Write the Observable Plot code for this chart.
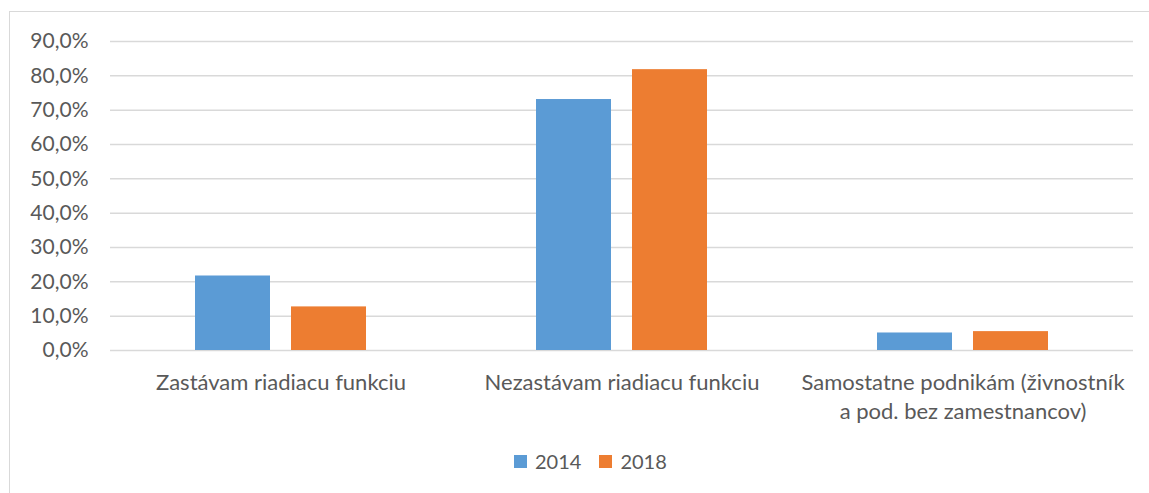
<!DOCTYPE html>
<html>
<head>
<meta charset="utf-8">
<script src="https://cdn.jsdelivr.net/npm/d3@7"></script>
<script src="https://cdn.jsdelivr.net/npm/@observablehq/plot@0.6"></script>
<style>
  html, body { margin: 0; padding: 0; background: #fff; overflow: hidden; }
  #wrap { position: relative; width: 1149px; height: 493px; overflow: hidden; font-family: Lato, sans-serif; }
  #frame { position: absolute; left: 9px; top: 11px; width: 1300px; height: 600px; border: 1px solid #d9d9d9; box-sizing: border-box; }
  #chart { position: absolute; left: 0; top: 0; }
  #legend { position: absolute; left: 514px; top: 449px; display: flex; align-items: center; font-size: 20px; color: #595959; }
  #legend .item { display: flex; align-items: center; margin-right: 18px; }
  #legend .sw { width: 13px; height: 13px; margin-right: 8px; }
</style>
</head>
<body>
<div id="wrap">
  <div id="frame"></div>
  <div id="chart"></div>
  <div id="legend"></div>
</div>
<script>
const categories = ["Zastávam riadiacu funkciu", "Nezastávam riadiacu funkciu", "Samostatne podnikám (živnostník a pod. bez zamestnancov)"];
const categoryLabels = ["Zastávam riadiacu funkciu", "Nezastávam riadiacu funkciu", "Samostatne podnikám (živnostník\na pod. bez zamestnancov)"];
const years = ["2014", "2018"];
const values2014 = [21.7, 73.1, 5.1];
const values2018 = [12.7, 81.8, 5.5];
const yTicks = [0, 10, 20, 30, 40, 50, 60, 70, 80, 90];
const colors = ["#5B9BD5", "#ED7D31"];

const data = [];
categories.forEach((c, i) => {
  data.push({category: c, year: years[0], value: values2014[i]});
  data.push({category: c, year: years[1], value: values2018[i]});
});

const fmt = d => d.toFixed(1).replace(".", ",") + "%";
const labelOf = c => categoryLabels[categories.indexOf(c)];

const chart = Plot.plot({
  width: 1149,
  height: 440,
  marginLeft: 109,
  marginRight: 16,
  marginTop: 41,
  marginBottom: 90,
  style: {fontFamily: "Lato, sans-serif", fontSize: "20px", color: "#595959", background: "transparent", overflow: "visible"},
  fx: {domain: categories, padding: 0, label: null, axis: null},
  x: {domain: years, paddingInner: 0.2165, paddingOuter: 0.8675, axis: null},
  y: {domain: [0, 90], label: null},
  color: {domain: years, range: colors},
  marks: [
    Plot.ruleY(yTicks, {stroke: "#d9d9d9", strokeWidth: 1.5}),
    Plot.barY(data, {fx: "category", x: "year", y: "value", fill: "year"}),
    Plot.axisY({ticks: yTicks, tickSize: 0, tickPadding: 22, tickFormat: fmt, label: null, fill: "#595959", fontSize: 21}),
    Plot.axisFx({anchor: "bottom", tickSize: 0, tickPadding: 18, tickFormat: labelOf, label: null, lineHeight: 1.35, fill: "#595959", fontSize: 22})
  ]
});
document.getElementById("chart").appendChild(chart);

const legend = document.getElementById("legend");
years.forEach((y, i) => {
  const item = document.createElement("div");
  item.className = "item";
  const sw = document.createElement("div");
  sw.className = "sw";
  sw.style.background = colors[i];
  const t = document.createElement("span");
  t.textContent = y;
  item.appendChild(sw);
  item.appendChild(t);
  legend.appendChild(item);
});
</script>
</body>
</html>
